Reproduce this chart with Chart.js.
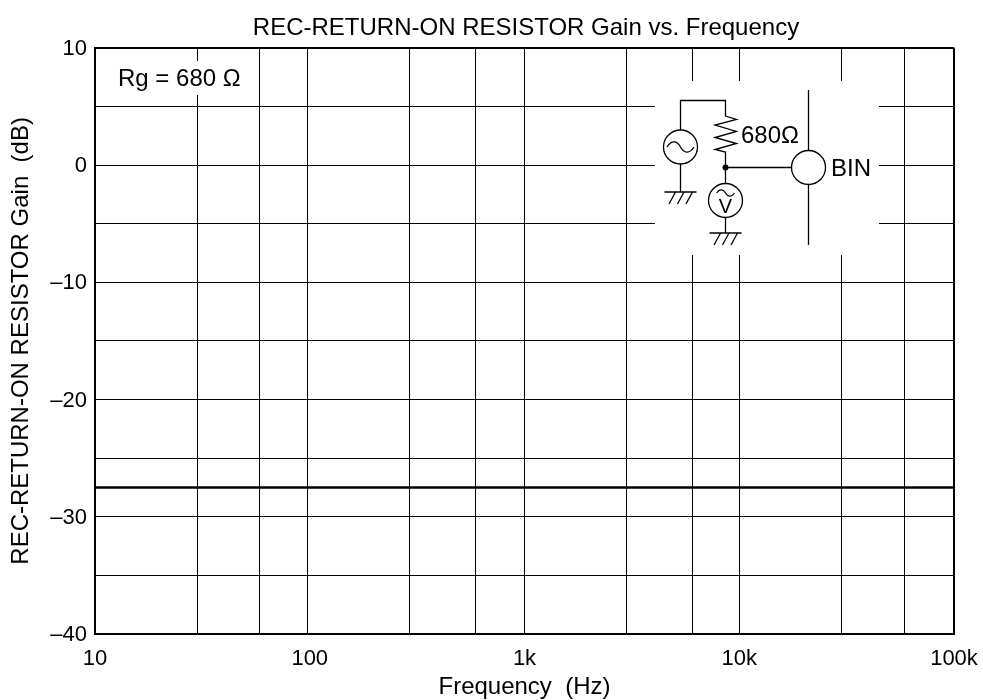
<!DOCTYPE html>
<html>
<head>
<meta charset="utf-8">
<style>
  html, body { margin: 0; padding: 0; background: #fff; }
  #wrap { width: 983px; height: 700px; }
</style>
<script src="https://cdn.jsdelivr.net/npm/chart.js@4/dist/chart.umd.min.js"></script>
</head>
<body>
<div id="wrap"><canvas id="gainChart" width="983" height="700"></canvas></div>
<script>
const chartTitle = 'REC-RETURN-ON RESISTOR Gain vs. Frequency';
const xTitle = 'Frequency  (Hz)';
const yTitle = 'REC-RETURN-ON RESISTOR Gain  (dB)';

const frequencies = [10, 100000];
const gainDb = [-27.5, -27.5];

// grid lines, they sit a little off the true log positions
const xGridValues = [10, 30, 58.4, 97.3, 292, 594, 1000, 3000, 6060, 10000, 30000, 58800, 100000];
const xTickValues = [10, 100, 1000, 10000, 100000];
const xTickLabels = ['10', '100', '1k', '10k', '100k'];
const yTickValues = [10, 0, -10, -20, -30, -40];
const yTickLabels = ['10', '0', '\u201310', '\u201320', '\u201330', '\u201340'];

const fontFamily = '"Liberation Sans", Arial, sans-serif';
const INK = '#000';

function line(ctx, points) {
  ctx.beginPath();
  points.forEach(([x, y], i) => i ? ctx.lineTo(x, y) : ctx.moveTo(x, y));
  ctx.stroke();
}

function circle(ctx, x, y, r) {
  ctx.beginPath();
  ctx.arc(x, y, r, 0, Math.PI * 2);
  ctx.fillStyle = '#fff';
  ctx.fill();
  ctx.stroke();
}

function ground(ctx, x, y) {
  line(ctx, [[x - 16, y], [x + 16, y]]);
  [-5, 3.5, 12].forEach(dx => line(ctx, [[x + dx, y], [x + dx - 6.5, y + 12]]));
}

function tilde(ctx, x, y, w, h) {
  ctx.beginPath();
  ctx.moveTo(x - w, y);
  ctx.bezierCurveTo(x - w * 0.6, y - h * 1.7, x - w * 0.2, y - h, x, y);
  ctx.bezierCurveTo(x + w * 0.2, y + h, x + w * 0.6, y + h * 1.7, x + w, y);
  ctx.stroke();
}

// the inset schematic and the Rg note sit on white patches that break the grid
const insetPlugin = {
  id: 'inset',
  afterLayout(chart) {
    chart.titleBlock.left += 3; // title sits a bit right of the plot centre
  },
  afterDatasetsDraw(chart) {
    const ctx = chart.ctx;
    ctx.save();
    ctx.fillStyle = '#fff';
    ctx.fillRect(655, 81, 224, 174);
    ctx.fillRect(110, 61, 136, 34);

    ctx.strokeStyle = INK;
    ctx.lineWidth = 1.3;

    line(ctx, [[680.5, 130], [680.5, 100.5], [725.5, 100.5], [725.5, 116],
      [736.5, 119.5], [715, 125], [736.5, 131.5], [715, 137.5], [736.5, 143.5], [715, 149.5], [725.5, 152], [725.5, 184]]);
    line(ctx, [[680.5, 164], [680.5, 192]]);
    line(ctx, [[725.5, 167.5], [792, 167.5]]);
    line(ctx, [[725.5, 217], [725.5, 233]]);
    line(ctx, [[808.5, 90], [808.5, 245]]);

    circle(ctx, 680.5, 147, 17);
    tilde(ctx, 680.5, 147, 13.5, 5);
    circle(ctx, 725.5, 200.5, 17);
    tilde(ctx, 725.5, 193, 9, 3);
    circle(ctx, 808.5, 167.5, 17);
    ground(ctx, 680.5, 192);
    ground(ctx, 725.5, 233);

    ctx.beginPath();
    ctx.arc(725.5, 167.5, 3, 0, Math.PI * 2);
    ctx.fillStyle = INK;
    ctx.fill();

    ctx.fillStyle = INK;
    ctx.textBaseline = 'alphabetic';
    ctx.textAlign = 'left';
    ctx.font = '24px ' + fontFamily;
    ctx.fillText('680\u03a9', 741, 143);
    ctx.fillText('BIN', 831, 176);
    ctx.fillText('Rg = 680 \u03a9', 118, 86);
    ctx.font = '20px ' + fontFamily;
    ctx.textAlign = 'center';
    ctx.fillText('V', 725.5, 213);
    ctx.restore();
  }
};

new Chart(document.getElementById('gainChart'), {
  type: 'line',
  data: {
    datasets: [{
      data: frequencies.map((f, i) => ({ x: f, y: gainDb[i] })),
      borderColor: INK,
      borderWidth: 2.5,
      pointRadius: 0,
      tension: 0,
    }]
  },
  options: {
    responsive: false,
    animation: false,
    layout: { padding: 0 },
    plugins: {
      legend: { display: false },
      tooltip: { enabled: false },
      title: {
        display: true,
        fullSize: false,
        text: chartTitle,
        color: INK,
        font: { family: fontFamily, size: 24, weight: 'normal' },
        padding: { top: 14, bottom: 5 },
      },
    },
    scales: {
      x: {
        type: 'logarithmic',
        min: 10,
        max: 100000,
        afterBuildTicks(axis) {
          const values = [...new Set([...xGridValues, ...xTickValues])].sort((a, b) => a - b);
          axis.ticks = values.map(value => ({ value }));
        },
        afterFit(axis) {
          axis.height = 66;
          axis.paddingRight = 29;
        },
        grid: {
          color: ctx => xGridValues.includes(ctx.tick.value) ? INK : 'transparent',
          lineWidth: ctx => ctx.tick.value === 100000 ? 2 : 1,
          drawTicks: false,
        },
        border: { color: INK, width: 2 },
        ticks: {
          autoSkip: false,
          maxRotation: 0,
          padding: 12,
          color: INK,
          font: { family: fontFamily, size: 22 },
          callback(value) {
            const i = xTickValues.indexOf(value);
            return i < 0 ? '' : xTickLabels[i];
          },
        },
        title: {
          display: true,
          text: xTitle,
          color: INK,
          font: { family: fontFamily, size: 24 },
          padding: { top: 0, bottom: -2 },
        },
      },
      y: {
        min: -40,
        max: 10,
        afterFit(axis) { axis.width = 95; },
        grid: {
          color: INK,
          lineWidth: ctx => ctx.tick.value === 10 ? 2 : 1,
          drawTicks: false,
        },
        border: { color: INK, width: 2 },
        ticks: {
          stepSize: 5,
          autoSkip: false,
          padding: 8,
          labelOffset: 1,
          color: INK,
          font: { family: fontFamily, size: 22 },
          callback(value) {
            const i = yTickValues.indexOf(value);
            return i < 0 ? '' : yTickLabels[i];
          },
        },
        title: {
          display: true,
          text: yTitle,
          color: INK,
          font: { family: fontFamily, size: 24 },
          padding: { top: 7, bottom: 0 },
        },
      },
    },
  },
  plugins: [insetPlugin],
});
</script>
</body>
</html>
